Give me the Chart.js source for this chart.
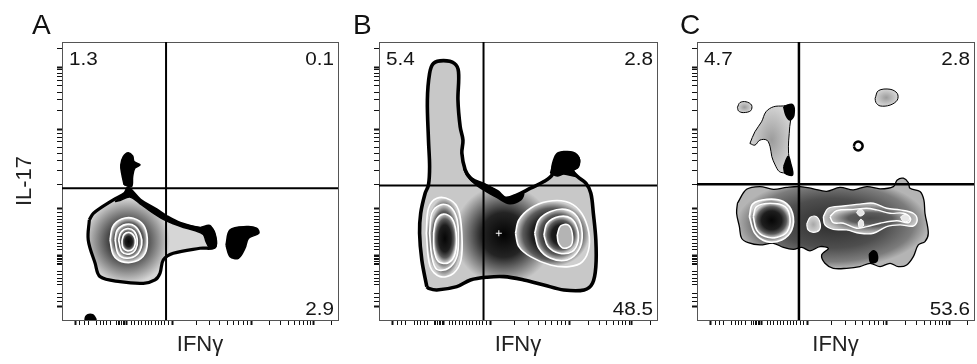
<!DOCTYPE html>
<html>
<head>
<meta charset="utf-8">
<script src="https://cdn.jsdelivr.net/npm/chart.js@4.4.1/dist/chart.umd.min.js"></script>
<style>
  html, body { margin: 0; padding: 0; background: #fff; }
  #wrap { position: relative; width: 977px; height: 364px; overflow: hidden; background: #fff; }
  #wrap canvas { position: absolute; top: 0; }
  .lbl { position: absolute; top: 11px; font-family: "Liberation Sans", Arial, sans-serif; font-size: 28px; line-height: 28px; color: #111; }
</style>
</head>
<body>
<div id="wrap">
  <canvas id="cA" width="345" height="364" style="left:0px;width:345px;height:364px"></canvas>
  <canvas id="cB" width="317" height="364" style="left:345px;width:317px;height:364px"></canvas>
  <canvas id="cC" width="315" height="364" style="left:662px;width:315px;height:364px"></canvas>
  <div class="lbl" style="left:32px">A</div>
  <div class="lbl" style="left:353px">B</div>
  <div class="lbl" style="left:680px">C</div>
</div>
<script>
// ---------- axis ticks (channel units 0..1000, biexponential display) ----------
const TICK_MAJOR = [50, 232, 400, 685, 910];
const TICK_MINOR = [65, 81, 95, 126, 138, 150, 162, 174, 198, 204, 210, 216, 222, 227,
  253, 264, 276, 289, 301, 313, 325, 337, 349, 361, 373, 385,
  486, 536, 572, 599, 622, 641, 657, 672,
  753, 792, 820, 842, 860, 875, 888, 900, 978];
const X_TITLE = 'IFNγ';
const Y_TITLE = 'IL-17';

// ---------- quadrant percentages [UL, UR, LR] ----------
const pctA = ['1.3', '0.1', '2.9'];
const pctB = ['5.4', '2.8', '48.5'];
const pctC = ['4.7', '2.8', '53.6'];

// ---------- quadrant gates [IFNγ, IL-17] ----------
const gateA = [377, 474];
const gateB = [376, 484];
const gateC = [368, 488];

// ---------- Panel A contours ----------
const A_peak = [236, 284];
const A_body = [[99,360],[114,384],[186,432],[228,456],[240,474],[283,432],[343,396],[379,372],[428,348],[500,330],[536,336],[554,264],[500,258],[403,240],[367,216],[355,168],[337,144],[295,132],[210,138],[138,156],[120,204],[95,288]];
const A_cap = [[192,426],[222,450],[240,474],[258,456],[289,426],[343,393],[379,369],[428,348],[500,332],[536,336],[554,312],[558,264],[536,258],[522,282],[512,308],[480,322],[440,333],[403,346],[367,362],[325,388],[283,418],[246,442],[210,430]];
const A_prot = [[225,486],[216,528],[213,558],[222,588],[240,602],[256,590],[261,570],[283,558],[264,546],[256,516],[252,480]];
const A_right = [[594,270],[609,324],[669,336],[705,330],[713,312],[676,294],[663,258],[639,222],[609,228]];
const A_dot = [[83,0],[86,12],[94,19],[102,21],[111,19],[118,12],[122,0]];
const A_r1 = [[174,288],[184,336],[216,363],[258,366],[295,342],[309,294],[301,240],[264,210],[216,210],[186,234]];
const A_r2 = [[192,288],[200,324],[232,344],[264,338],[285,306],[289,270],[271,234],[234,222],[204,237]];
const A_r3 = [[205,288],[213,315],[237,329],[261,320],[273,288],[267,254],[244,237],[217,245]];
const A_r4 = [[217,285],[225,308],[246,315],[262,300],[266,276],[256,254],[235,249],[220,261]];

// ---------- Panel B contours ----------
const B_peak = [449, 306];
const B_body = [[172,120],[154,216],[146,312],[150,384],[166,456],[178,486],[182,552],[178,647],[174,791],[182,887],[196,923],[232,933],[271,923],[286,893],[284,791],[292,695],[302,647],[298,600],[310,540],[329,510],[353,492],[389,480],[425,462],[455,438],[497,450],[545,474],[593,498],[623,522],[627,558],[641,594],[665,602],[696,600],[716,582],[714,552],[696,540],[714,516],[744,492],[762,456],[771,384],[780,288],[780,192],[768,132],[738,108],[665,108],[593,126],[521,144],[449,156],[389,154],[329,144],[280,120],[208,108],[178,114]];
const B_knob = [[617,528],[627,564],[641,596],[665,604],[696,602],[720,582],[716,552],[699,537],[714,516],[665,525],[641,518]];
const B_neck = [[304,546],[335,510],[383,489],[425,462],[455,436],[497,448],[520,455],[510,432],[470,418],[425,440],[389,460],[347,488],[316,520]];
const B_L1 = [[170,312],[178,402],[208,438],[256,432],[286,396],[298,312],[295,216],[268,168],[220,156],[184,192]];
const B_L2 = [[182,312],[190,384],[220,414],[256,408],[280,366],[286,300],[280,228],[250,186],[208,182],[190,228]];
const B_L3 = [[196,312],[206,360],[232,381],[262,366],[278,312],[274,240],[250,206],[214,210],[198,252]];
const B_R1 = [[491,312],[503,360],[545,402],[605,426],[671,426],[720,396],[750,336],[756,264],[732,210],[684,192],[617,198],[545,228],[503,264]];
const B_R2 = [[560,312],[575,360],[617,390],[671,398],[713,372],[731,312],[719,252],[677,216],[617,222],[575,258]];
const B_R3 = [[593,306],[605,348],[648,372],[690,366],[713,330],[716,282],[695,246],[648,240],[608,264]];
const B_R4 = [[641,306],[653,338],[680,342],[695,312],[692,270],[666,258],[646,276]];
const B_plus = [[431, 312]];

// ---------- Panel C contours ----------
const C_body = [[146,420],[179,470],[227,480],[276,470],[324,477],[372,480],[420,472],[468,463],[516,477],[564,468],[613,480],[661,472],[709,480],[723,504],[745,510],[763,494],[769,474],[805,462],[819,432],[823,384],[835,312],[823,282],[799,270],[781,228],[757,198],[727,192],[697,204],[661,192],[625,204],[588,192],[540,186],[492,186],[462,204],[450,234],[474,258],[444,264],[408,249],[378,261],[348,254],[312,261],[276,276],[227,270],[185,278],[161,294],[153,336],[143,384]];
const C_L1 = [[189,372],[201,417],[252,434],[312,426],[345,384],[342,324],[306,288],[252,282],[209,312]];
const C_L2 = [[203,372],[215,408],[264,420],[318,408],[336,366],[326,318],[288,297],[245,300],[215,324]];
const C_mini = [[396,345],[408,369],[430,372],[444,350],[442,324],[420,315],[401,324]];
const C_R1 = [[456,372],[474,402],[528,410],[588,417],[637,420],[685,402],[733,396],[781,384],[795,360],[781,338],[733,342],[685,336],[637,312],[588,312],[540,324],[492,326],[462,342]];
const C_R2 = [[480,372],[504,393],[564,398],[613,402],[649,396],[697,384],[745,384],[771,366],[763,350],[721,357],[661,348],[613,336],[576,330],[528,348],[492,350]];
const C_s1 = [[576,386],[586,398],[600,393],[603,381],[588,374]];
const C_s2 = [[582,350],[591,362],[600,355],[600,338],[586,333]];
const C_s3 = [[735,371],[751,379],[767,371],[763,356],[743,356]];
const C_arm = [[191,635],[209,677],[233,713],[249,749],[276,767],[312,770],[342,773],[348,743],[338,719],[333,671],[330,623],[333,576],[342,546],[338,522],[318,528],[297,534],[282,558],[270,588],[264,623],[252,647],[227,647],[209,629]];
const C_armB1 = [[313,767],[345,775],[350,737],[336,719],[321,737]];
const C_armB2 = [[313,552],[329,588],[338,564],[345,522],[318,528]];
const C_dotL = [[146,765],[155,782],[177,785],[197,773],[194,753],[167,746],[150,752]];
const C_dotR = [[643,797],[655,825],[697,830],[723,815],[723,791],[697,773],[661,770],[646,782]];
const C_hole = [[566,626],[571,637],[582,642],[593,637],[598,626],[593,615],[582,610],[571,615]];
const C_patch = [[622,237],[637,249],[649,240],[649,211],[627,207]];

// ---------- styles (zebra shading: light at a contour, dark toward the next one in) ----------
// mode 'min'  : circular gradient round the peak, radius = f * nearest vertex distance
// mode 'ell'  : elliptical gradient fitted to the contour's own extent
const STYLE = {
  outerA: { mode: 'min', f: 1.1, stops: [[0, '#1c1c1c'], [0.42, '#404040'], [1, '#d6d6d6']], border: '#000', bw: 3.2 },
  outerB: { mode: 'min', f: 1.35, stops: [[0, '#030303'], [0.45, '#242424'], [1, '#c8c8c8']], border: '#000', bw: 3.6 },
  outerC: { mode: 'ell', stops: [[0, '#2c2c2c'], [0.55, '#4e4e4e'], [0.85, '#7c7c7c'], [1, '#b4b4b4']], border: '#000', bw: 1.3 },
  ring:   { mode: 'ell', stops: [[0, '#060606'], [0.55, '#1e1e1e'], [0.8, '#5c5c5c'], [1, '#cfcfcf']], border: '#fff', bw: 1.6 },
  ringC:  { mode: 'ell', stops: [[0, '#4a4a4a'], [0.55, '#5c5c5c'], [1, '#c6c6c6']], border: '#fff', bw: 1.4 },
  light:  { mode: 'ell', stops: [[0, '#9c9c9c'], [1, '#d4d4d4']], border: '#000', bw: 1 },
  lightW: { mode: 'ell', stops: [[0, '#a8a8a8'], [1, '#d2d2d2']], border: '#fff', bw: 1.2 },
  black:  { fill: '#000', border: '#000', bw: 1.5 },
  core:   { fill: '#b4b4b4', border: '#fff', bw: 1.6 },
  hole:   { fill: '#fff', border: '#000', bw: 2.5 },
  spot:   { fill: '#e6e6e6', border: '#fff', bw: 1 }
};

function pixelPts(chart, pts) {
  const xs = chart.scales.x, ys = chart.scales.y;
  return pts.map(p => [xs.getPixelForValue(p[0]), ys.getPixelForValue(p[1])]);
}

function shadeFill(pts, peak, s) {
  const fallback = s.stops[s.stops.length - 1][1];
  return function (c) {
    if (c.type !== 'dataset') return fallback;
    const chart = c.chart;
    if (!chart.chartArea || !chart.scales.x || !chart.scales.y) return fallback;
    const px = pixelPts(chart, pts);
    if (s.mode === 'min') {
      const cx = chart.scales.x.getPixelForValue(peak[0]);
      const cy = chart.scales.y.getPixelForValue(peak[1]);
      let rMin = Infinity;
      for (const p of px) rMin = Math.min(rMin, Math.hypot(p[0] - cx, p[1] - cy));
      const g = chart.ctx.createRadialGradient(cx, cy, 0, cx, cy, Math.max(2, rMin * s.f));
      for (const st of s.stops) g.addColorStop(st[0], st[1]);
      return g;
    }
    // elliptical gradient painted on an offscreen canvas and used as a pattern
    let x0 = Infinity, x1 = -Infinity, y0 = Infinity, y1 = -Infinity;
    for (const p of px) { x0 = Math.min(x0, p[0]); x1 = Math.max(x1, p[0]); y0 = Math.min(y0, p[1]); y1 = Math.max(y1, p[1]); }
    const cx = (x0 + x1) / 2, cy = (y0 + y1) / 2;
    const rx = Math.max(1, (x1 - x0) / 2), ry = Math.max(1, (y1 - y0) / 2);
    const W = chart.canvas.width, H = chart.canvas.height;
    const off = document.createElement('canvas');
    off.width = W; off.height = H;
    const o = off.getContext('2d');
    o.translate(cx, cy); o.scale(rx, ry);
    const g = o.createRadialGradient(0, 0, 0, 0, 0, 1);
    for (const st of s.stops) g.addColorStop(st[0], st[1]);
    o.fillStyle = g;
    o.fillRect(-cx / rx - 1, -cy / ry - 1, W / rx + 2, H / ry + 2);
    return chart.ctx.createPattern(off, 'no-repeat');
  };
}

function layer(pts, kind, peak) {
  const s = STYLE[kind];
  return {
    showLine: true, fill: 'shape', tension: 0.35,
    data: pts.concat([pts[0]]).map(p => ({ x: p[0], y: p[1] })),
    backgroundColor: s.fill ? s.fill : shadeFill(pts, peak, s),
    borderColor: s.border, borderWidth: s.bw,
    pointRadius: 0, pointHoverRadius: 0, xAxisID: 'x', yAxisID: 'y'
  };
}

function gateLines(g, w) {
  return [
    { showLine: true, fill: false, tension: 0, data: [{ x: g[0], y: 0 }, { x: g[0], y: 1000 }],
      borderColor: '#000', borderWidth: w, pointRadius: 0, xAxisID: 'x', yAxisID: 'y' },
    { showLine: true, fill: false, tension: 0, data: [{ x: 0, y: g[1] }, { x: 1000, y: g[1] }],
      borderColor: '#000', borderWidth: w, pointRadius: 0, xAxisID: 'x', yAxisID: 'y' }
  ];
}

function quadPlugin(vals) {
  return {
    id: 'quadText',
    afterDatasetsDraw(chart) {
      const ctx = chart.ctx, a = chart.chartArea;
      ctx.save();
      ctx.fillStyle = '#151515';
      ctx.font = '18px "Liberation Sans", Arial, sans-serif';
      ctx.textBaseline = 'alphabetic';
      const put = (s, x, y, align) => {
        ctx.save(); ctx.translate(x, y); ctx.scale(1.15, 1);
        ctx.textAlign = align; ctx.fillText(s, 0, 0); ctx.restore();
      };
      put(vals[0], a.left + 7, a.top + 23, 'left');
      put(vals[1], a.right - 4, a.top + 23, 'right');
      put(vals[2], a.right - 4, a.bottom - 5, 'right');
      ctx.restore();
    }
  };
}

const ALL_TICKS = TICK_MAJOR.concat(TICK_MINOR).sort((a, b) => a - b);
const setTicks = (scale) => { scale.ticks = ALL_TICKS.map(v => ({ value: v })); };
const gridOpts = {
  display: true, drawOnChartArea: false, drawTicks: true, tickLength: 5,
  tickColor: '#111',
  tickWidth: (c) => (c.tick && TICK_MAJOR.includes(c.tick.value)) ? 2 : 1
};
const borderOpts = { display: true, color: '#555', width: 1 };
const titleFont = { family: '"Liberation Sans", Arial, sans-serif', size: 22, lineHeight: 1.2 };

function makePanel(id, yWidth, padRight, showY, layers, gate, gw, pct, extra) {
  const ds = layers.concat(extra || [], gateLines(gate, gw));
  ds.forEach((d, i) => { d.order = ds.length - i; });
  return new Chart(document.getElementById(id), {
    type: 'scatter',
    data: { datasets: ds },
    options: {
      responsive: false, animation: false, devicePixelRatio: 1, events: [],
      layout: { padding: { left: 0, right: padRight, top: 42, bottom: 0 }, autoPadding: false },
      plugins: { legend: { display: false }, tooltip: { enabled: false } },
      scales: {
        x: { type: 'linear', position: 'bottom', min: 0, max: 1000,
             afterBuildTicks: setTicks, afterFit: (s) => { s.height = 44; },
             ticks: { display: false }, grid: gridOpts, border: borderOpts,
             title: { display: true, text: X_TITLE, color: '#222', font: titleFont, padding: { top: 0, bottom: 6 } } },
        y: { type: 'linear', position: 'left', min: 0, max: 1000,
             afterBuildTicks: setTicks, afterFit: (s) => { s.width = yWidth; },
             ticks: { display: false }, grid: gridOpts, border: borderOpts,
             title: { display: showY, text: Y_TITLE, color: '#222', font: titleFont, padding: { top: 12, bottom: 0 } } },
        x2: { type: 'linear', position: 'top', min: 0, max: 1000, afterFit: (s) => { s.height = 0; },
              ticks: { display: false }, grid: { display: false }, border: borderOpts },
        y2: { type: 'linear', position: 'right', min: 0, max: 1000, afterFit: (s) => { s.width = 0; },
              ticks: { display: false }, grid: { display: false }, border: borderOpts }
      }
    },
    plugins: [quadPlugin(pct)]
  });
}

// Panel A
makePanel('cA', 62, 7, true, [
  layer(A_body, 'outerA', A_peak),
  layer(A_cap, 'black'),
  layer(A_prot, 'black'),
  layer(A_right, 'black'),
  layer(A_dot, 'black'),
  layer(A_r1, 'ring'),
  layer(A_r2, 'ring'),
  layer(A_r3, 'ring'),
  layer(A_r4, 'ring')
], gateA, 2, pctA);

// Panel B
makePanel('cB', 34, 5, false, [
  layer(B_body, 'outerB', B_peak),
  layer(B_neck, 'black'),
  layer(B_knob, 'black'),
  layer(B_L1, 'ring'),
  layer(B_L2, 'ring'),
  layer(B_L3, 'ring'),
  layer(B_R1, 'ring'),
  layer(B_R2, 'ring'),
  layer(B_R3, 'ring'),
  layer(B_R4, 'core')
], gateB, 2, pctB, [{
  showLine: false, data: B_plus.map(p => ({ x: p[0], y: p[1] })), pointStyle: 'cross',
  pointRadius: 3, pointBorderColor: '#fff', pointBorderWidth: 1, xAxisID: 'x', yAxisID: 'y'
}]);

// Panel C
makePanel('cC', 35, 3, false, [
  layer(C_body, 'outerC'),
  layer(C_patch, 'black'),
  layer(C_arm, 'light'),
  layer(C_armB1, 'black'),
  layer(C_armB2, 'black'),
  layer(C_dotL, 'light'),
  layer(C_dotR, 'light'),
  layer(C_hole, 'hole'),
  layer(C_L1, 'ring'),
  layer(C_L2, 'ring'),
  layer(C_mini, 'lightW'),
  layer(C_R1, 'ringC'),
  layer(C_R2, 'ringC'),
  layer(C_s1, 'spot'),
  layer(C_s2, 'spot'),
  layer(C_s3, 'spot')
], gateC, 2.5, pctC);
</script>
</body>
</html>
